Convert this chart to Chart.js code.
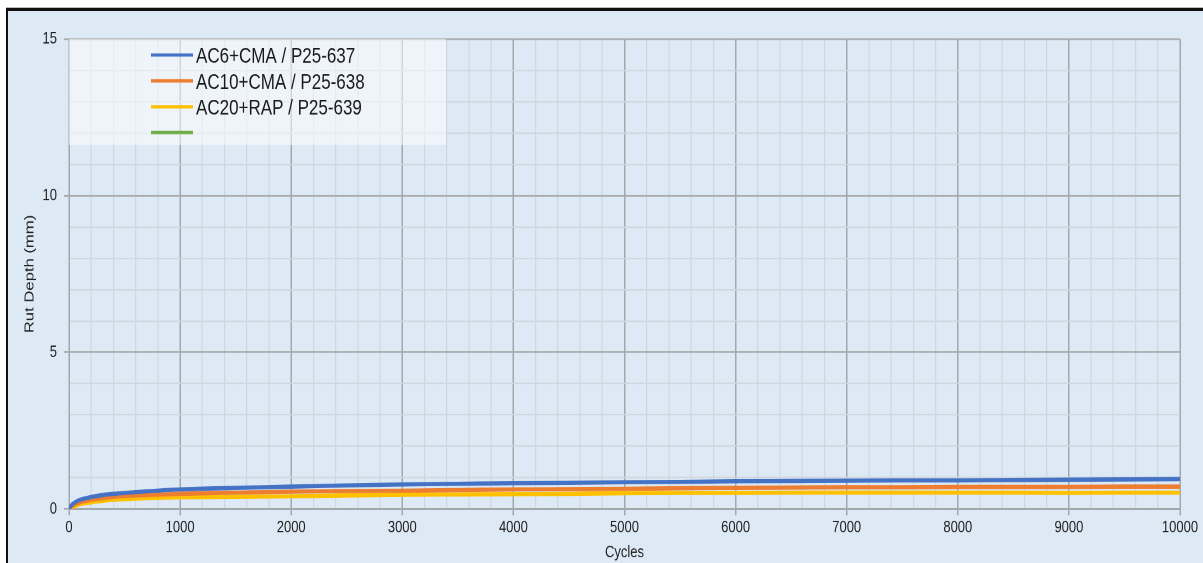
<!DOCTYPE html>
<html>
<head>
<meta charset="utf-8">
<title>Rut Depth vs Cycles</title>
<script src="https://cdn.jsdelivr.net/npm/chart.js@4/dist/chart.umd.min.js"></script>
<style>
  html, body { margin: 0; padding: 0; background: #ffffff; overflow: hidden; }
  body { width: 1203px; height: 563px; position: relative; }
  #frame {
    position: absolute; left: 6px; top: 8px; width: 1300px; height: 700px;
    background: #dde9f5; border-left: 2px solid #111; border-top: 3px solid #111;
    box-shadow: 0 -1px 0 #bbb;
  }
  /* chart is laid out in a 1203x440 space and stretched vertically */
  #wrap {
    position: absolute; left: 0; top: 0; width: 1203px; height: 440px;
    transform: scaleY(1.2795); transform-origin: 0 0;
  }
</style>
</head>
<body>
<div id="frame"></div>
<div id="wrap"><canvas id="chart"></canvas></div>
<script>
// Wheel-tracking rut depth (mm) against load cycles
const cycles = [0, 25, 50, 100, 200, 300, 400, 500, 700, 1000, 1500, 2000, 2500, 3000, 3500,
                4000, 4500, 5000, 5500, 6000, 6500, 7000, 7500, 8000, 8500, 9000, 9500, 10000];
const rutP637 = [0, 0.13, 0.20, 0.29, 0.38, 0.44, 0.48, 0.51, 0.56, 0.62, 0.67, 0.71, 0.75, 0.78, 0.80,
                 0.82, 0.83, 0.85, 0.86, 0.88, 0.89, 0.90, 0.91, 0.91, 0.92, 0.93, 0.94, 0.95];
const rutP638 = [0, 0.08, 0.14, 0.21, 0.29, 0.34, 0.38, 0.41, 0.44, 0.48, 0.52, 0.55, 0.57, 0.58, 0.60,
                 0.62, 0.63, 0.64, 0.66, 0.67, 0.68, 0.69, 0.69, 0.70, 0.70, 0.70, 0.71, 0.71];
const rutP639 = [0, 0.05, 0.09, 0.15, 0.21, 0.26, 0.29, 0.31, 0.34, 0.37, 0.38, 0.40, 0.43, 0.45, 0.46,
                 0.47, 0.48, 0.50, 0.51, 0.51, 0.52, 0.52, 0.52, 0.52, 0.52, 0.51, 0.52, 0.52];
const seriesLabels = ['AC6+CMA / P25-637', 'AC10+CMA / P25-638', 'AC20+RAP / P25-639', ''];
const seriesColors = ['#4472c4', '#ed7d31', '#ffc000', '#70ad47'];
const yTicks = [0, 5, 10, 15];
const xTicks = [0, 1000, 2000, 3000, 4000, 5000, 6000, 7000, 8000, 9000, 10000];

const FONT = "'Liberation Sans', Arial, sans-serif";
const MAJOR = '#a5a8ab';
const MINOR = '#cfd6de';

function pts(ys) { return cycles.map((c, i) => ({ x: c, y: ys[i] })); }
const seriesData = [pts(rutP637), pts(rutP638), pts(rutP639), []];

// Legend drawn as a translucent panel in the upper-left of the plot
const panelLegend = {
  id: 'panelLegend',
  beforeDatasetsDraw(chart) {
    const { ctx, chartArea } = chart;
    const left = chartArea.left, top = chartArea.top;
    ctx.save();
    ctx.fillStyle = 'rgba(255,255,255,0.5)';
    ctx.fillRect(left, top, 377, 82.8);
    const rowH = 20.2;
    chart.data.datasets.forEach((ds, i) => {
      const cy = top + 12.5 + i * rowH;
      ctx.strokeStyle = ds.borderColor;
      ctx.lineWidth = 2.6;
      ctx.lineCap = 'butt';
      ctx.beginPath();
      ctx.moveTo(left + 82, cy);
      ctx.lineTo(left + 124, cy);
      ctx.stroke();
      if (ds.label) {
        ctx.fillStyle = '#1a1a1a';
        ctx.font = '17px ' + FONT;
        ctx.textBaseline = 'alphabetic';
        ctx.textAlign = 'left';
        ctx.fillText(ds.label, left + 127, cy + 6.1);
      }
    });
    ctx.restore();
  }
};

new Chart(document.getElementById('chart'), {
  type: 'line',
  data: {
    datasets: seriesData.map((d, i) => ({
      label: seriesLabels[i],
      data: d,
      borderColor: seriesColors[i],
      backgroundColor: seriesColors[i],
      borderWidth: 3.3,
      pointRadius: 0,
      fill: false,
      cubicInterpolationMode: 'monotone'
    }))
  },
  options: {
    responsive: true,
    maintainAspectRatio: false,
    devicePixelRatio: 2,
    animation: false,
    layout: { padding: { top: 30.5, right: 23, bottom: 0, left: 0 } },
    plugins: { legend: { display: false }, tooltip: { enabled: false } },
    scales: {
      x: {
        type: 'linear',
        min: 0, max: 10000,
        afterFit(s) { s.height = 42.3; },
        ticks: {
          stepSize: 200, autoSkip: false, maxRotation: 0, padding: 2,
          color: '#222', font: { family: FONT, size: 13 },
          callback: v => xTicks.includes(v) ? String(v) : ''
        },
        grid: {
          tickLength: 5,
          color: c => xTicks.includes(c.tick.value) ? MAJOR : MINOR,
          lineWidth: c => xTicks.includes(c.tick.value) ? 1.5 : 1.2,
          tickColor: c => xTicks.includes(c.tick.value) ? MAJOR : 'rgba(0,0,0,0)'
        },
        border: { display: true, color: MAJOR, width: 1.5 },
        title: {
          display: true, text: 'Cycles', color: '#222',
          font: { family: FONT, size: 13 }, padding: { top: 0, bottom: 0.5 }
        }
      },
      y: {
        min: 0, max: 15,
        afterFit(s) { s.width = 69; },
        ticks: {
          stepSize: 1, autoSkip: false, padding: 7,
          color: '#222', font: { family: FONT, size: 13 },
          callback: v => yTicks.includes(v) ? String(v) : ''
        },
        grid: {
          tickLength: 5,
          color: c => yTicks.includes(c.tick.value) ? MAJOR : MINOR,
          lineWidth: c => yTicks.includes(c.tick.value) ? 1.3 : 1.1,
          tickColor: c => yTicks.includes(c.tick.value) ? MAJOR : 'rgba(0,0,0,0)'
        },
        border: { display: true, color: MAJOR, width: 1.5 },
        title: {
          display: true, text: 'Rut Depth (mm)', color: '#222',
          font: { family: FONT, size: 13 }, padding: { top: 22, bottom: 0 }
        }
      }
    }
  },
  plugins: [panelLegend]
});
</script>
</body>
</html>
